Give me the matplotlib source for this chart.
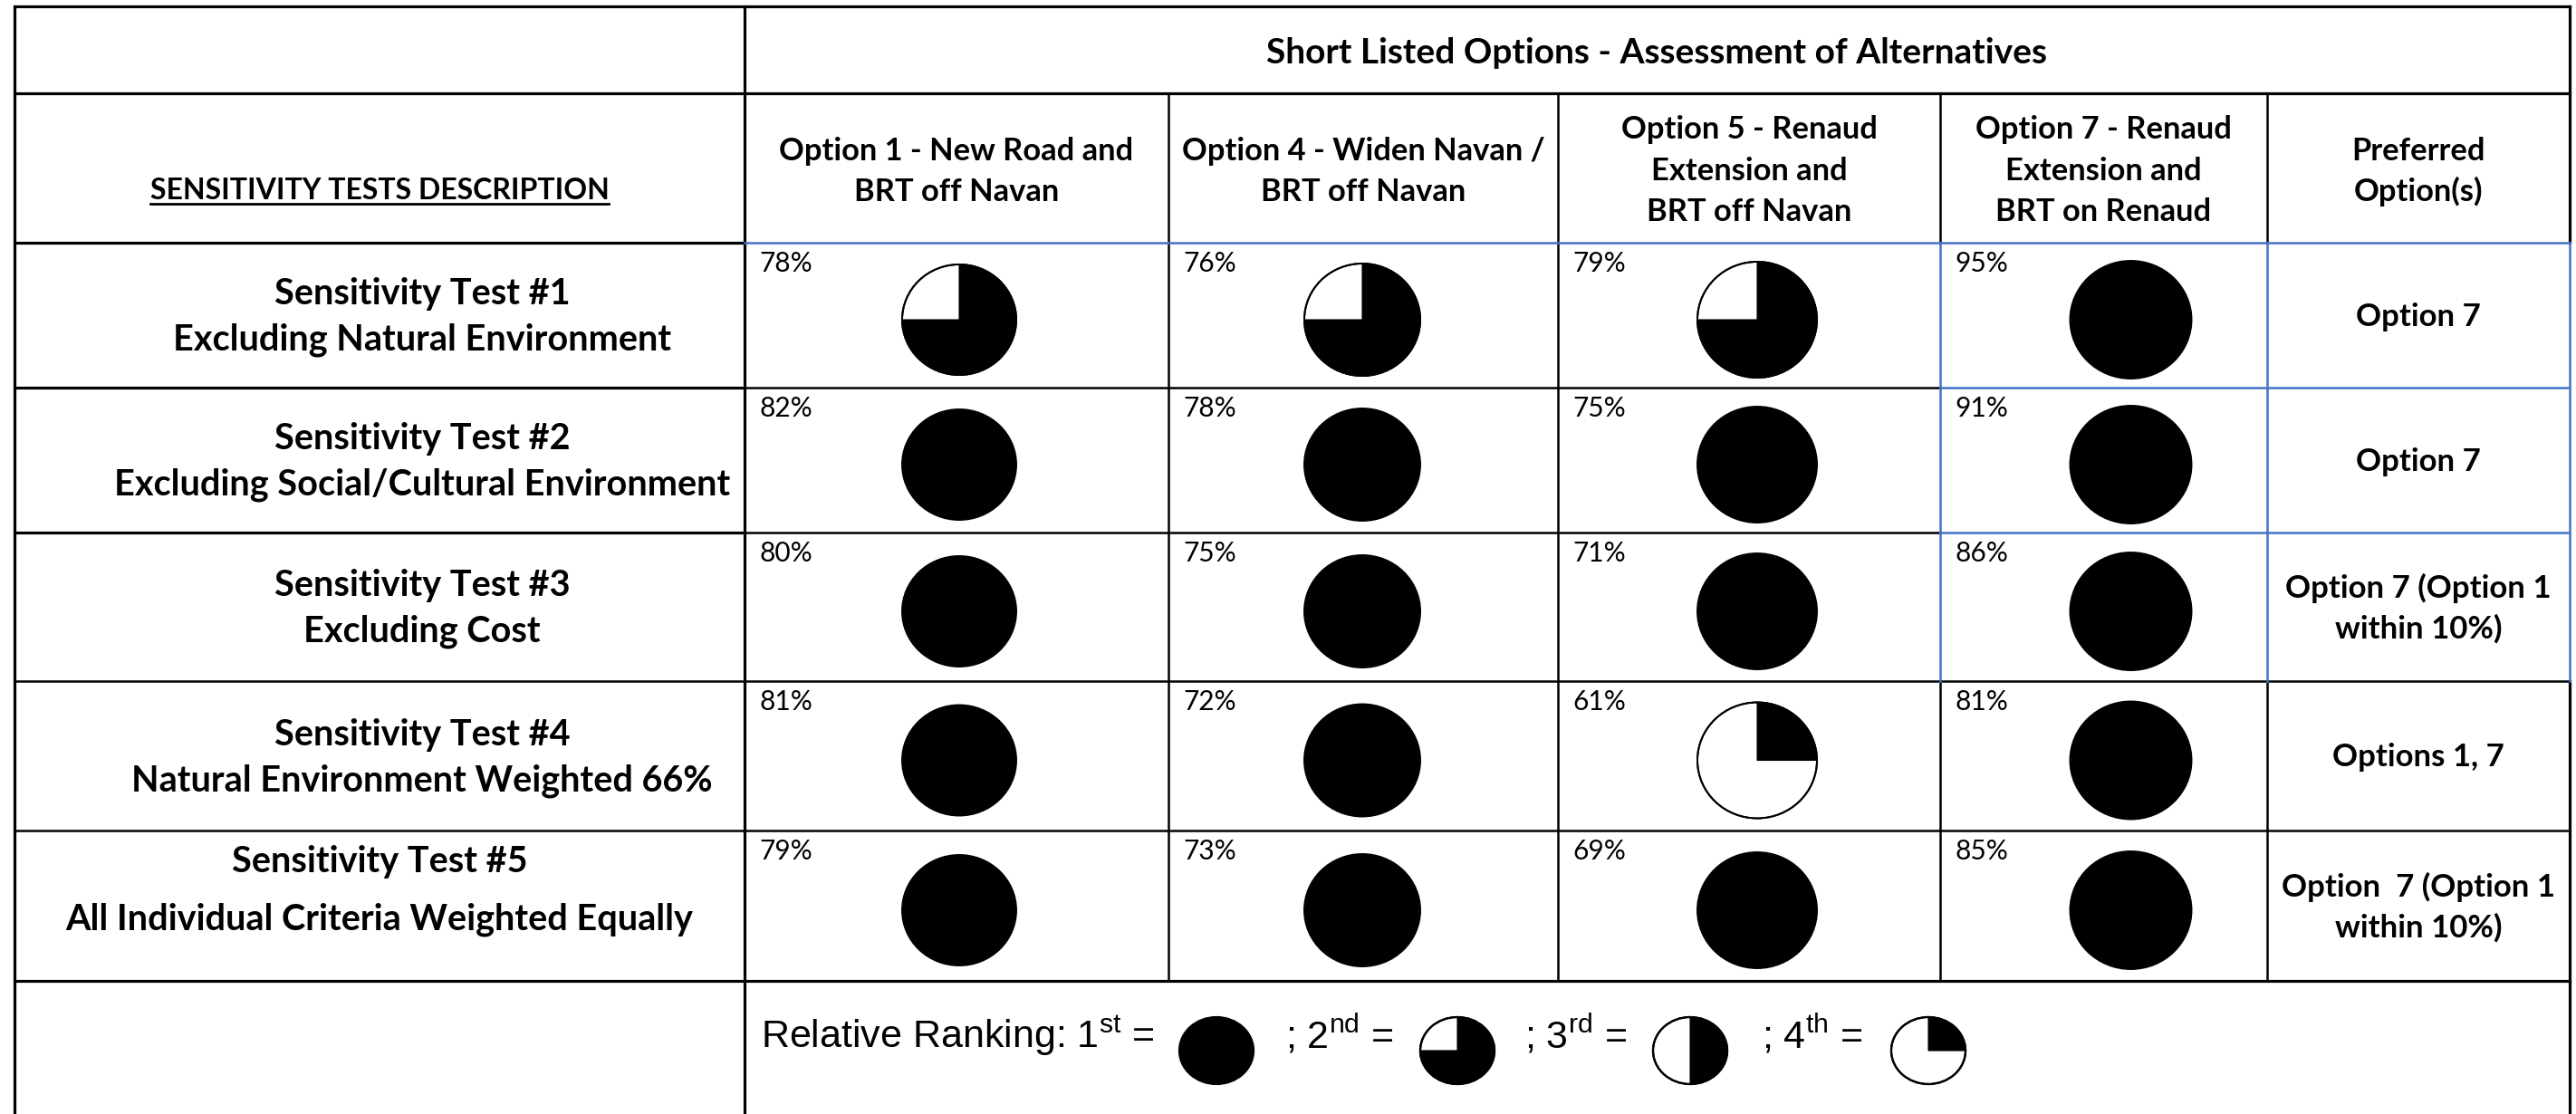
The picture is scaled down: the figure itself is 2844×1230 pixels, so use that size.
import matplotlib
matplotlib.use("Agg")
import matplotlib.pyplot as plt
from matplotlib.patches import Ellipse, Wedge
from matplotlib.transforms import Affine2D

# ---------------- data ----------------
title = "Short Listed Options - Assessment of Alternatives"
desc_heading = "SENSITIVITY TESTS DESCRIPTION"
option_headers = [
    ["Option 1 - New Road and", "BRT off Navan"],
    ["Option 4 - Widen Navan /", "BRT off Navan"],
    ["Option 5 - Renaud", "Extension and", "BRT off Navan"],
    ["Option 7 - Renaud", "Extension and", "BRT on Renaud"],
]
preferred_header = ["Preferred", "Option(s)"]
test_titles = ["Sensitivity Test #1", "Sensitivity Test #2", "Sensitivity Test #3",
               "Sensitivity Test #4", "Sensitivity Test #5"]
test_subtitles = ["Excluding Natural Environment",
                  "Excluding Social/Cultural Environment",
                  "Excluding Cost",
                  "Natural Environment Weighted 66%",
                  "All Individual Criteria Weighted Equally"]
scores = [
    [78, 76, 79, 95],
    [82, 78, 75, 91],
    [80, 75, 71, 86],
    [81, 72, 61, 81],
    [79, 73, 69, 85],
]
ranks = [
    [2, 2, 2, 1],
    [1, 1, 1, 1],
    [1, 1, 1, 1],
    [1, 1, 4, 1],
    [1, 1, 1, 1],
]
preferred = [
    ["Option 7"],
    ["Option 7"],
    ["Option 7 (Option 1", "within 10%)"],
    ["Options 1, 7"],
    ["Option  7 (Option 1", "within 10%)"],
]
legend_prefix = "Relative Ranking: "
legend_nums = ["1", "2", "3", "4"]
legend_sups = ["st", "nd", "rd", "th"]
legend_ranks = [1, 2, 3, 4]
rank_fill = {1: 1.0, 2: 0.75, 3: 0.5, 4: 0.25}

# ---------------- layout ----------------
W, H = 2844, 1230
plt.rcParams['mathtext.fontset'] = 'custom'
plt.rcParams['mathtext.rm'] = 'Liberation Sans'
plt.rcParams['mathtext.it'] = 'Liberation Sans'
plt.rcParams['mathtext.bf'] = 'Liberation Sans:bold'

fig = plt.figure(figsize=(W / 100, H / 100), dpi=100)
ax = fig.add_axes([0, 0, 1, 1])
ax.set_xlim(0, W)
ax.set_ylim(H, 0)
ax.axis('off')

FONT = ['Lato', 'DejaVu Sans']
BLUE = '#4472C4'
LW = 1.8
LWO = 2.3

col_x = [16, 822, 1290, 1720, 2142, 2503, 2837]
row_y = [7, 103, 268, 428, 588, 752, 917, 1083]


def hline(y, x0, x1, color='black', lw=LW, z=2):
    ax.plot([x0, x1], [y, y], color=color, lw=lw, solid_capstyle='projecting', zorder=z)


def vline(x, y0, y1, color='black', lw=LW, z=2):
    ax.plot([x, x], [y0, y1], color=color, lw=lw, solid_capstyle='projecting', zorder=z)


# horizontal lines
hline(row_y[0], col_x[0], col_x[-1], lw=LWO)
hline(row_y[1], col_x[0], col_x[-1], lw=LWO)
hline(row_y[2], col_x[0], col_x[1], lw=LWO)
hline(row_y[2], col_x[1], col_x[-1], color=BLUE, z=3)
for y in row_y[3:5]:
    hline(y, col_x[0], col_x[1], lw=LWO)
    hline(y, col_x[1], col_x[4])
    hline(y, col_x[4], col_x[-1], color=BLUE, z=3)
for y in row_y[5:8]:
    hline(y, col_x[0], col_x[-1], lw=LWO if y == row_y[7] else LW)

# vertical lines
vline(col_x[0], row_y[0], H, lw=LWO)
vline(col_x[1], row_y[0], H, lw=LWO)
for x in col_x[2:4]:
    vline(x, row_y[1], row_y[7])
for x in col_x[4:6]:
    vline(x, row_y[1], row_y[2])
    vline(x, row_y[2], row_y[5], color=BLUE, z=3)
    vline(x, row_y[5], row_y[7])
vline(col_x[6], row_y[0], row_y[2], lw=LWO)
vline(col_x[6], row_y[2], row_y[5], color=BLUE, z=3)
vline(col_x[6], row_y[5], H, lw=LWO)


def harvey(cx, cy, rx, ry, frac, lw=1.4):
    tr = Affine2D().scale(rx, ry).translate(cx, cy) + ax.transData
    base = Ellipse((0, 0), 2, 2, facecolor='black' if frac >= 1 else 'white',
                   edgecolor='black', lw=lw, transform=tr, zorder=4)
    ax.add_patch(base)
    if frac < 1:
        w = Wedge((0, 0), 1, 270, 270 + 360 * frac, facecolor='black',
                  edgecolor='black', lw=0.8, transform=tr, zorder=5)
        ax.add_patch(w)
        ring = Ellipse((0, 0), 2, 2, facecolor='none', edgecolor='black', lw=lw,
                       transform=tr, zorder=6)
        ax.add_patch(ring)


# title
ax.text((col_x[1] + col_x[-1]) / 2, 70, title, ha='center', va='baseline',
        fontsize=28, fontweight='bold', family=FONT)

# description heading (underlined)
hd = ax.text((col_x[0] + col_x[1]) / 2, 220, desc_heading, ha='center', va='baseline',
             fontsize=23, fontweight='bold', family=FONT)

# option headers
for i, lines in enumerate(option_headers + [preferred_header]):
    cx = (col_x[i + 1] + col_x[i + 2]) / 2
    if len(lines) == 2:
        bases = [177, 222]
    else:
        bases = [153, 199, 244]
    for s, b in zip(lines, bases):
        ax.text(cx, b, s, ha='center', va='baseline', fontsize=24.8,
                fontweight='bold', family=FONT)

# rows
col_dx = [3, -1, 9, 30]
col_r = [63, 64, 66, 67]
for r in range(5):
    top, bot = row_y[r + 2], row_y[r + 3]
    rc = (top + bot) / 2
    # description
    if r < 4:
        dx = 466
        b1, b2 = rc - 12, rc + 39
    else:
        dx = (col_x[0] + col_x[1]) / 2
        b1, b2 = rc - 37, rc + 27
    ax.text(dx, b1, test_titles[r], ha='center', va='baseline', fontsize=28.5,
            fontweight='bold', family=FONT)
    ax.text(dx, b2, test_subtitles[r], ha='center', va='baseline', fontsize=28.5,
            fontweight='bold', family=FONT)
    # option cells
    for c in range(4):
        x0 = col_x[c + 1]
        ax.text(x0 + 16, top + 32, f"{scores[r][c]}%", ha='left', va='baseline',
                fontsize=21.5, family=FONT)
        cx = (col_x[c + 1] + col_x[c + 2]) / 2 + col_dx[c]
        harvey(cx, rc + 5, col_r[c], col_r[c] - 2, rank_fill[ranks[r][c]])
    # preferred
    pc = (col_x[5] + col_x[6]) / 2
    if len(preferred[r]) == 1:
        bases = [rc + 12]
    else:
        bases = [rc - 10, rc + 35]
    for s, b in zip(preferred[r], bases):
        ax.text(pc, b, s, ha='center', va='baseline', fontsize=25,
                fontweight='bold', family=FONT)

# legend row
seg_x = [840, 1419, 1683, 1945]
ell_x = [1343, 1609, 1866, 2129]
leg_base = 1157
for i in range(4):
    pre = legend_prefix if i == 0 else "; "
    s = pre + legend_nums[i] + r"${}^{\mathrm{" + legend_sups[i] + r"}}$ ="
    ax.text(seg_x[i], leg_base, s, ha='left', va='baseline', fontsize=31,
            family=['Liberation Sans', 'DejaVu Sans'])
    harvey(ell_x[i], 1160, 41, 37, rank_fill[legend_ranks[i]], lw=1.6)

# underline for heading
fig.canvas.draw()
bb = hd.get_window_extent(renderer=fig.canvas.get_renderer())
inv = ax.transData.inverted()
(ux0, _), (ux1, _) = inv.transform([(bb.x0, bb.y0), (bb.x1, bb.y0)])
hline(225, ux0, ux1, lw=2.0)

fig.savefig("out.png", dpi=100)
